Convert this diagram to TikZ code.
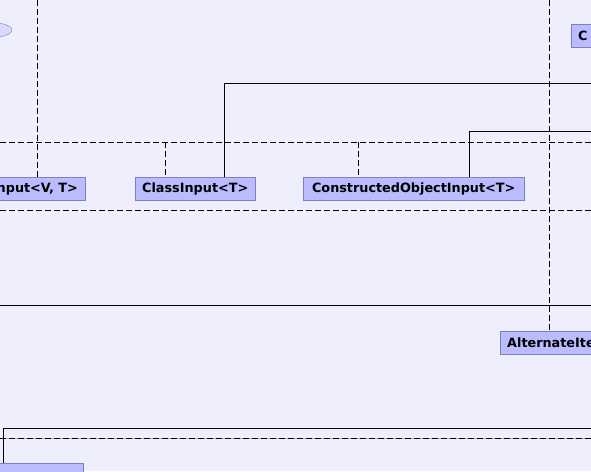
\documentclass[tikz,border=0pt]{standalone}
\usepackage{fontspec}
\setmainfont{DejaVu Sans}
\usetikzlibrary{shapes}
\definecolor{PageLilac}{RGB}{238,238,252}
\definecolor{BoxLilac}{RGB}{187,187,255}
\definecolor{BoxEdge}{RGB}{128,128,192}
\definecolor{NoteLilac}{RGB}{218,218,252}

\begin{document}
\begin{tikzpicture}[
    x=1pt, y=-1pt,
    box/.style={draw=BoxEdge, fill=BoxLilac, rectangle, minimum height=23pt, inner xsep=7pt, inner ysep=0pt, font=\fontsize{12.8}{14}\selectfont\bfseries, text=black},
    dep/.style={dash pattern=on 6pt off 3pt, line width=0.9pt, black},
    link/.style={line width=0.9pt, black}
  ]
    \useasboundingbox (0,0) rectangle (591,471);
    \fill[PageLilac] (0,0) rectangle (591,471);
    \clip (0,0) rectangle (591,471);

    \node[ellipse, draw=BoxEdge, fill=NoteLilac, minimum width=50pt, minimum height=16pt] (note) at (-13,30) {};
    \node[box, anchor=north east, text width=131pt, align=right] (vt) at (85,177) {nput<V, T>};
    \node[box, anchor=north west, minimum width=118pt] (cls) at (135,177) {ClassInput<T>};
    \node[box, anchor=north west, minimum width=221pt] (cobj) at (303,177) {ConstructedObjectInput<T>};
    \node[box, anchor=north west, text width=40pt, align=left] (c) at (571,24) {C};
    \node[box, anchor=north west, text width=110pt, align=left] (alt) at (500,331) {AlternateIte};
    \node[box, anchor=north west, minimum width=93pt] (low) at (-10,463) {};

    \coordinate (top1) at (37,0);
    \coordinate (top2) at (549,0);
    \coordinate (h1w) at (0,142);   \coordinate (h1e) at (591,142);
    \coordinate (h2w) at (0,210);   \coordinate (h2e) at (591,210);
    \coordinate (h3w) at (0,305);   \coordinate (h3e) at (591,305);
    \coordinate (h4w) at (0,438);   \coordinate (h4e) at (591,438);
    \coordinate (j1) at (165,142);
    \coordinate (j2) at (358,142);
    \coordinate (k1) at (224,83);   \coordinate (e1) at (591,83);
    \coordinate (k2) at (469,131);  \coordinate (e2) at (591,131);
    \coordinate (k3) at (3,428);    \coordinate (e3) at (591,428);

    \draw[dep] (top1) -- (top1 |- vt.north);
    \draw[dep] (top2) -- (top2 |- alt.north);
    \draw[dep] (h1w) -- (h1e);
    \draw[dep] (j1) -- (j1 |- cls.north);
    \draw[dep] (j2) -- (j2 |- cobj.north);
    \draw[dep] (h2w) -- (h2e);
    \draw[link] (h3w) -- (h3e);
    \draw[link] (k1 |- cls.north) -- (k1) -- (e1);
    \draw[link] (k2 |- cobj.north) -- (k2) -- (e2);
    \draw[link] (k3 |- low.north) -- (k3) -- (e3);
    \draw[line width=0.9pt, gray!60] (h4w) -- (h4e);
    \draw[dep] (h4w) -- (h4e);
\end{tikzpicture}
\end{document}
